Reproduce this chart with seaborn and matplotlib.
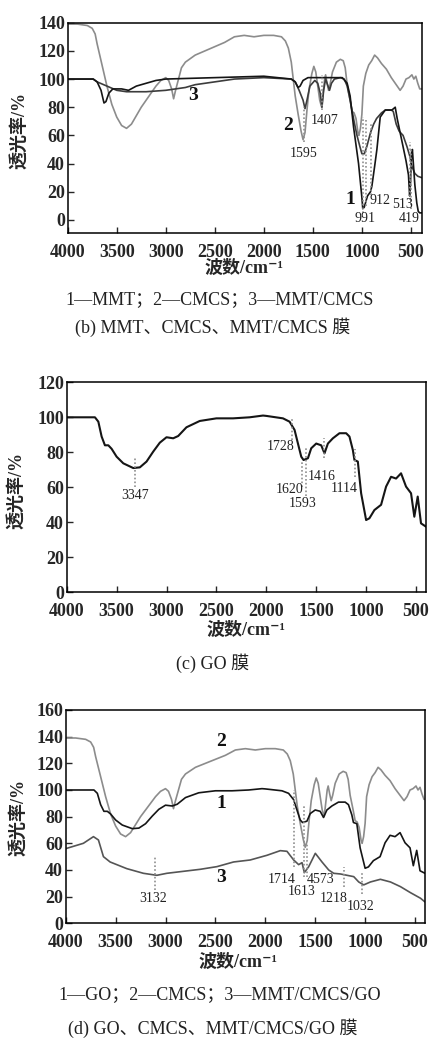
import numpy as np
import pandas as pd
import matplotlib
matplotlib.use("Agg")
import matplotlib.pyplot as plt
import seaborn as sns

# ---- spectra (wavenumber cm-1, transmittance %) ----
MMT_WN = [4000, 3740, 3700, 3660, 3630, 3610, 3580, 3540, 3450, 3380, 3300, 3200, 3100,
          3000, 2500, 2000, 1720, 1680, 1650, 1630, 1600, 1550, 1300, 1200, 1150, 1120,
          1085, 1034, 1000, 991, 976, 943, 912, 898, 870, 847, 813, 762, 694, 660, 640,
          610, 580, 550, 525, 513, 505, 495, 485, 475, 460, 440, 425, 410, 390]
MMT_T = [100, 100, 98, 92, 83, 84, 90, 93, 93, 92, 95, 97, 99,
         100, 101, 102, 100, 98, 94, 95, 99, 101, 101, 101, 97, 88,
         66, 40, 16, 8, 9, 17, 20, 24, 38, 50, 73, 78, 78, 80, 72,
         62, 52, 42, 32, 17, 25, 45, 50, 40, 25, 12, 6, 5, 5]

MC_WN = [4000, 3740, 3700, 3600, 3500, 3400, 3300, 3200, 3000, 2900, 2800, 2700, 2500,
         2300, 2000, 1720, 1680, 1640, 1600, 1580, 1560, 1530, 1480, 1450, 1425, 1407,
         1390, 1370, 1350, 1330, 1310, 1280, 1220, 1180, 1150, 1120, 1080, 1050, 1020,
         1000, 975, 950, 912, 880, 850, 800, 760, 700, 680, 650, 620, 580, 540, 510,
         490, 460, 430, 390]
MC_T = [100, 100, 98, 95, 92, 91, 91, 91, 92, 93, 94, 96, 98,
        100, 101, 100, 98, 92, 85, 79, 85, 95, 99, 97, 90, 80,
        92, 100, 96, 92, 97, 100, 101, 100, 95, 85, 70, 60, 52,
        47, 47, 52, 62, 68, 72, 76, 78, 78, 77, 68, 63, 60, 52, 45,
        38, 33, 31, 30]

CMCS_WN = [4000, 3900, 3800, 3750, 3720, 3700, 3650, 3600, 3550, 3500, 3450, 3400, 3350,
           3300, 3250, 3200, 3150, 3100, 3050, 3000, 2970, 2940, 2920, 2900, 2870, 2840,
           2800, 2700, 2600, 2500, 2400, 2300, 2200, 2100, 2000, 1900, 1820, 1780, 1750,
           1720, 1700, 1680, 1650, 1620, 1600, 1580, 1560, 1540, 1510, 1490, 1470, 1450,
           1430, 1410, 1395, 1380, 1370, 1355, 1340, 1325, 1300, 1260, 1220, 1190, 1170,
           1150, 1120, 1100, 1080, 1060, 1040, 1030, 1015, 1000, 985, 960, 930, 900, 870,
           840, 800, 750, 700, 650, 610, 580, 550, 520, 490, 470, 450, 430, 410, 390]
CMCS_T = [139, 139, 138, 136, 132, 125, 110, 95, 82, 73, 67, 65, 68,
          74, 80, 85, 90, 95, 99, 101, 99, 93, 86, 92, 100, 108,
          112, 117, 120, 123, 126, 130, 131, 130, 131, 131, 130, 127, 122,
          112, 100, 88, 75, 63, 57, 62, 78, 92, 104, 109, 105, 95,
          85, 80, 90, 100, 103, 97, 92, 96, 105, 112, 114, 113, 108,
          96, 85, 77, 76, 72, 62, 60, 65, 75, 95, 104, 110, 113, 117,
          115, 111, 107, 101, 96, 92, 95, 100, 101, 103, 100, 102, 97, 93, 93]

GO_WN = [4000, 3717, 3683, 3650, 3617, 3583, 3550, 3500, 3433, 3333, 3267, 3200, 3133,
         3067, 3000, 2933, 2883, 2800, 2667, 2500, 2333, 2167, 2033, 2000, 1833, 1767,
         1717, 1683, 1650, 1627, 1583, 1550, 1500, 1450, 1417, 1383, 1333, 1267, 1200,
         1167, 1133, 1117, 1083, 1050, 1000, 967, 917, 850, 800, 750, 700, 650, 600,
         550, 517, 483, 450, 400]
GO_T = [100, 100, 97.5, 89, 84, 84, 82, 77.5, 73.7, 71, 71.4, 74.7, 80.4,
        85.5, 88.6, 88, 89.3, 94.3, 97.9, 99.4, 99.4, 100, 101, 100.8, 99.4, 97.5,
        92.8, 85, 77.5, 75.6, 76.6, 82.3, 85, 84, 79.4, 85, 88, 90.9, 90.9,
        89, 81.3, 75.6, 74.7, 56.6, 41.3, 42.3, 47, 50, 60.4, 66, 65, 68, 60.4,
        56.6, 43.2, 54.7, 39.4, 37.5]

MCG_WN = [4000, 3823, 3722, 3672, 3622, 3555, 3388, 3221, 3087, 2987, 2820, 2652, 2485,
          2318, 2151, 1984, 1850, 1783, 1716, 1666, 1632, 1609, 1565, 1499, 1432, 1365,
          1315, 1248, 1181, 1114, 1064, 1014, 947, 847, 746, 646, 546, 445, 400]
MCG_T = [56, 60, 65, 62.5, 50, 46, 41, 37.5, 36, 37.5, 39, 40.5, 42.5,
         46, 47.5, 51, 54.5, 54, 47.5, 44, 45.5, 38, 42.5, 52.5, 46, 40,
         37.5, 37, 36, 35, 31, 28.8, 31, 33, 31, 27.5, 23, 18.8, 16]

# peak annotations: (wavenumber, y_low, y_high)
B_MARKS = [(1595, 55, 80), (1407, 78, 103), (991, 5, 73), (955, 10, 72),
           (912, 18, 68), (506, 14, 55), (495, 8, 50)]
C_MARKS = [(3317, 60, 77), (1743, 87, 99), (1640, 60, 75), (1600, 55, 83),
           (1417, 77, 88), (1113, 66, 82)]
D_MARKS = [(3104, 25, 50), (1716, 42, 100), (1616, 35, 89), (1582, 35, 60),
           (1214, 27, 42), (1034, 22, 38)]

# labels: (text, wavenumber, y)
B_NUMS = [("1595", 1596, 47), ("1407", 1380, 70.5), ("991", 967, 1),
          ("912", 814, 14), ("513", 583, 11), ("419", 515, 1)]
C_NUMS = [("3347", 3317, 55.5), ("1728", 1860, 83.5), ("1620", 1767, 59),
          ("1593", 1633, 51), ("1416", 1450, 66), ("1114", 1217, 59.5)]
D_NUMS = [("3132", 3120, 18.8), ("1714", 1833, 32.5), ("1613", 1632, 24),
          ("4573", 1449, 32.5), ("1218", 1315, 18.8), ("1032", 1044, 12.5)]
B_CURVE_IDS = [("3", 2725, 88), ("2", 1750, 67), ("1", 1120, 14.6)]
D_CURVE_IDS = [("2", 2445, 136), ("1", 2445, 89.5), ("3", 2445, 34.5)]

BLACK = "#151515"
DARK = "#3c3c3c"
MID = "#555555"
GRAY = "#8c8c8c"
DOT = "#8f8f8f"

sns.set_style("ticks")
FONTS = ["Liberation Serif", "Noto Sans CJK SC", "DejaVu Sans"]
plt.rcParams["font.family"] = FONTS

W, H = 430, 1039
fig = plt.figure(figsize=(W / 100, H / 100), dpi=100)
fig.patch.set_facecolor("white")


def px_axes(left, top, right, bottom):
    return fig.add_axes([left / W, 1 - bottom / H, (right - left) / W, (bottom - top) / H])


def spectrum(ax, wn, t, color, lw=1.2):
    df = pd.DataFrame({"wn": wn, "t": t})
    sns.lineplot(data=df, x="wn", y="t", ax=ax, color=color, lw=lw,
                 sort=False, estimator=None)


def style_axes(ax, ylim, yticks, xlim):
    ax.set_xlim(*xlim)
    ax.set_ylim(*ylim)
    ax.set_xticks([4000, 3500, 3000, 2500, 2000, 1500, 1000, 500])
    ax.set_yticks(yticks)
    ax.tick_params(direction="in", length=4, width=1, labelsize=13,
                   top=False, right=False)
    ax.tick_params(axis="x", pad=8)
    ax.tick_params(axis="y", pad=2)
    for lab in ax.get_xticklabels() + ax.get_yticklabels():
        lab.set_fontweight("bold")
    for sp in ax.spines.values():
        sp.set_visible(True)
        sp.set_color("black")
        sp.set_linewidth(1.1)
    ax.set_xlabel("")
    ax.set_ylabel("")


def marks(ax, items):
    for x, y0, y1 in items:
        ax.plot([x, x], [y0, y1], color=DOT, lw=1.2, ls=(0, (1, 1.3)))


def nums(ax, items):
    for s, x, y in items:
        ax.text(x, y, s, fontsize=10, ha="center", va="center", color="#222222")


def ids(ax, items):
    for s, x, y in items:
        ax.text(x, y, s, fontsize=14, fontweight="bold", ha="center", va="center",
                color="#111111")


def ftext(x, y, s, **kw):
    fig.text(x / W, 1 - y / H, s, ha="center", va="center", **kw)


XLABEL = "波数/cm⁻¹"
YLABEL = "透光率/%"
CAP_KW = dict(fontsize=13, color="#222222")
LAB_KW = dict(fontsize=13, fontweight="bold")

# ---- (b) MMT, CMCS, MMT/CMCS ----
ax1 = px_axes(67.7, 22.7, 421.7, 233.3)
spectrum(ax1, CMCS_WN, CMCS_T, GRAY)
spectrum(ax1, MC_WN, MC_T, DARK)
spectrum(ax1, MMT_WN, MMT_T, BLACK)
marks(ax1, B_MARKS)
nums(ax1, B_NUMS)
ids(ax1, B_CURVE_IDS)
style_axes(ax1, (-9.5, 140), [0, 20, 40, 60, 80, 100, 120, 140], (4000, 390))
ftext(20, 130, YLABEL, rotation=90, **LAB_KW)
ftext(244, 268, XLABEL, **LAB_KW)
ftext(220, 300, "1—MMT；2—CMCS；3—MMT/CMCS", **CAP_KW)
ftext(213, 327, "(b) MMT、CMCS、MMT/CMCS 膜", **CAP_KW)

# ---- (c) GO ----
ax2 = px_axes(66.7, 382.3, 426, 592.3)
spectrum(ax2, GO_WN, GO_T, BLACK, lw=1.5)
marks(ax2, C_MARKS)
nums(ax2, C_NUMS)
style_axes(ax2, (0, 120), [0, 20, 40, 60, 80, 100, 120], (4000, 400))
ftext(17, 490, YLABEL, rotation=90, **LAB_KW)
ftext(246, 630, XLABEL, **LAB_KW)
ftext(213, 663, "(c) GO 膜", **CAP_KW)

# ---- (d) GO, CMCS, MMT/CMCS/GO ----
ax3 = px_axes(65.7, 710, 425, 923.3)
spectrum(ax3, CMCS_WN, CMCS_T, GRAY)
spectrum(ax3, GO_WN, GO_T, BLACK)
spectrum(ax3, MCG_WN, MCG_T, MID)
marks(ax3, D_MARKS)
nums(ax3, D_NUMS)
ids(ax3, D_CURVE_IDS)
style_axes(ax3, (0, 160), [0, 20, 40, 60, 80, 100, 120, 140, 160], (4000, 400))
ftext(19, 817, YLABEL, rotation=90, **LAB_KW)
ftext(238, 962, XLABEL, **LAB_KW)
ftext(220, 995, "1—GO；2—CMCS；3—MMT/CMCS/GO", **CAP_KW)
ftext(213, 1028, "(d) GO、CMCS、MMT/CMCS/GO 膜", **CAP_KW)

fig.savefig("out.png", dpi=100, facecolor="white")
